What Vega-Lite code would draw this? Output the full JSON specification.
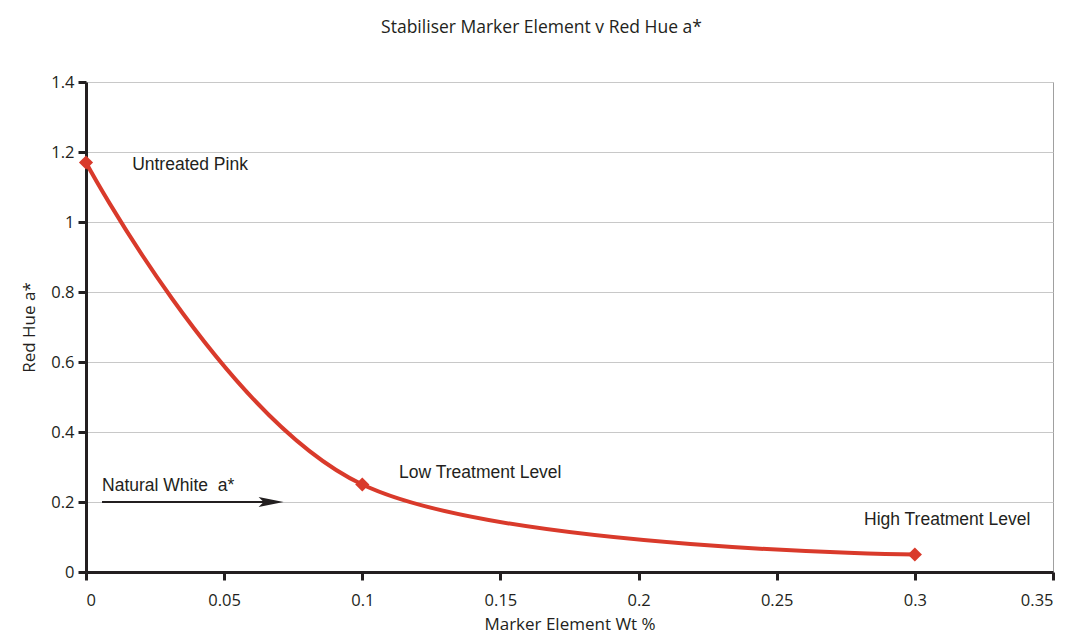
{
  "$schema": "https://vega.github.io/schema/vega-lite/v6.json",
  "autosize": {"type": "none"},
  "padding": {"left": 86, "top": 82, "right": 22, "bottom": 68},
  "width": 967,
  "height": 490,
  "background": "white",
  "title": {
    "text": "Stabiliser Marker Element v Red Hue a*",
    "font": "Open Sans",
    "fontSize": 17.5,
    "fontWeight": "normal",
    "color": "#231f20",
    "offset": 38,
    "dx": -28
  },
  "config": {
    "view": {"stroke": "#a0a0a0", "strokeWidth": 1},
    "axis": {
      "labelFont": "Open Sans",
      "labelFontSize": 16.5,
      "labelColor": "#231f20",
      "titleFont": "Open Sans",
      "titleFontSize": 17,
      "titleFontWeight": "normal",
      "titleColor": "#231f20",
      "domainColor": "#231f20",
      "domainWidth": 3,
      "tickColor": "#231f20",
      "tickWidth": 3,
      "tickSize": 8
    }
  },
  "datasets": {
    "curve": [
      {"wt": 0, "hue": 1.17},
      {"wt": 0.1, "hue": 0.25},
      {"wt": 0.3, "hue": 0.05}
    ],
    "notes": [
      {"wt": 0.0167, "hue": 1.163, "label": "Untreated Pink"},
      {"wt": 0.1133, "hue": 0.283, "label": "Low Treatment Level"},
      {"wt": 0.2816, "hue": 0.149, "label": "High Treatment Level"},
      {"wt": 0.0058, "hue": 0.246, "label": "Natural White\u00a0\u00a0a*"}
    ],
    "arrow": [
      {"wt": 0.0058, "hue": 0.2},
      {"wt": 0.068, "hue": 0.2}
    ],
    "arrowhead": [
      {"wt": 0.067, "hue": 0.2}
    ]
  },
  "layer": [
    {
      "data": {"name": "curve"},
      "mark": {"type": "line", "interpolate": "cardinal", "color": "#d93a2b", "strokeWidth": 4},
      "encoding": {
        "x": {
          "field": "wt",
          "type": "quantitative",
          "title": "Marker Element Wt %",
          "scale": {"domain": [0, 0.35], "nice": false},
          "axis": {
            "values": [0, 0.05, 0.1, 0.15, 0.2, 0.25, 0.3, 0.35],
            "format": "~g",
            "grid": false,
            "labelPadding": 12,
            "titlePadding": 8
          }
        },
        "y": {
          "field": "hue",
          "type": "quantitative",
          "title": "Red Hue a*",
          "scale": {"domain": [0, 1.4], "nice": false},
          "axis": {
            "values": [0, 0.2, 0.4, 0.6, 0.8, 1, 1.2, 1.4],
            "format": "~g",
            "grid": true,
            "gridColor": "#c8c8c8",
            "gridWidth": 1,
            "labelPadding": 4,
            "titlePadding": 12
          }
        }
      }
    },
    {
      "data": {"name": "curve"},
      "mark": {"type": "point", "shape": "diamond", "filled": true, "size": 200, "color": "#d93a2b", "opacity": 1},
      "encoding": {
        "x": {"field": "wt", "type": "quantitative"},
        "y": {"field": "hue", "type": "quantitative"}
      }
    },
    {
      "data": {"name": "arrow"},
      "mark": {"type": "line", "color": "#231f20", "strokeWidth": 2},
      "encoding": {
        "x": {"field": "wt", "type": "quantitative"},
        "y": {"field": "hue", "type": "quantitative"}
      }
    },
    {
      "data": {"name": "arrowhead"},
      "mark": {
        "type": "point",
        "shape": "M-1,-0.4L1,0L-1,0.4L-0.6,0Z",
        "filled": true,
        "size": 625,
        "color": "#231f20",
        "opacity": 1
      },
      "encoding": {
        "x": {"field": "wt", "type": "quantitative"},
        "y": {"field": "hue", "type": "quantitative"}
      }
    },
    {
      "data": {"name": "notes"},
      "mark": {
        "type": "text",
        "align": "left",
        "baseline": "middle",
        "font": "Liberation Sans",
        "fontSize": 17.5,
        "color": "#231f20"
      },
      "encoding": {
        "x": {"field": "wt", "type": "quantitative"},
        "y": {"field": "hue", "type": "quantitative"},
        "text": {"field": "label"}
      }
    }
  ]
}
